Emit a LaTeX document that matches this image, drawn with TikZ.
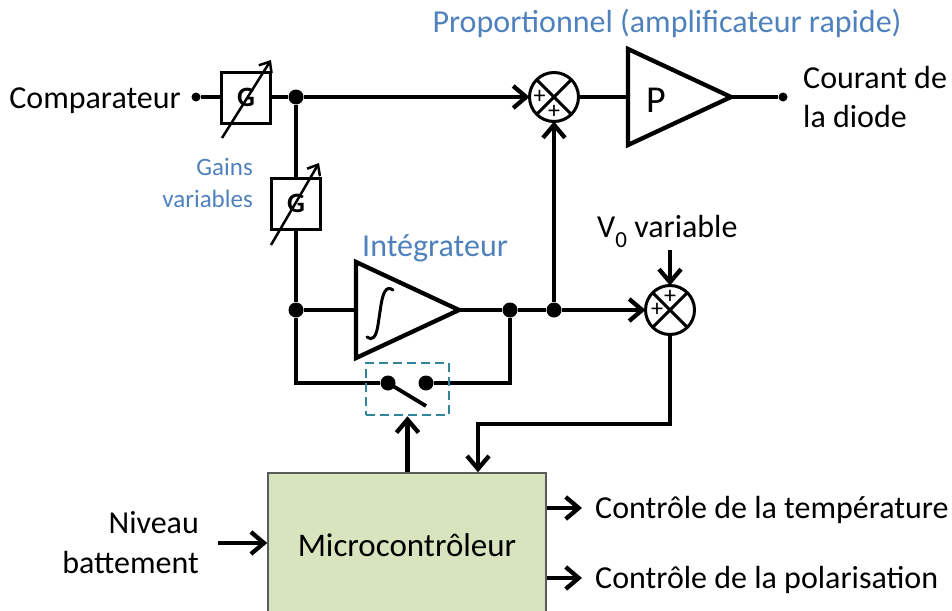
\documentclass[tikz,border=0pt]{standalone}
\usepackage{fontspec}
\setmainfont{Carlito}
\usetikzlibrary{arrows.meta}
\definecolor{lblue}{RGB}{79,129,189}
\definecolor{dteal}{RGB}{49,133,155}
\definecolor{mcfill}{RGB}{215,228,189}
\definecolor{mcline}{RGB}{90,90,90}
\newcommand\fsmain{\fontsize{32}{39}\selectfont}
\newcommand\fssmall{\fontsize{25}{30}\selectfont}
\begin{document}
\begin{tikzpicture}[x=1pt,y=-1pt,
  wire/.style={line width=4.3pt},
  arr/.style={line width=4.3pt,-{Straight Barb[length=13pt,width=22pt]}},
  jdot/.style={circle,fill=black,inner sep=0pt,minimum size=15pt},
  tdot/.style={circle,fill=black,inner sep=0pt,minimum size=9pt},
  gbox/.style={draw,line width=3pt,fill=white,minimum width=49pt,minimum height=51pt,inner sep=0pt,font=\fontsize{28}{30}\selectfont\bfseries},
  sumc/.style={circle,draw,line width=3pt,fill=white,minimum size=49pt,inner sep=0pt,outer sep=0pt},
  lbl/.style={inner sep=0pt,font=\fsmain},
  blbl/.style={inner sep=0pt,font=\fsmain,text=lblue},
  slbl/.style={inner sep=0pt,font=\fssmall,text=lblue},
  plus/.style={inner sep=0pt,font=\fontsize{24}{24}\selectfont},
  garrow/.style={line width=2.5pt,-{Straight Barb[length=9pt,width=15pt]}},
  swbox/.style={draw=dteal,line width=2.5pt,dash pattern=on 9pt off 5pt,minimum width=83pt,minimum height=52pt,inner sep=0pt},
  amp/.style={line width=4.3pt,line join=miter},
]
\clip (0,0) rectangle (952,610);

% ---------- coordinates ----------
\coordinate (pin) at (628,97);
\coordinate (pout) at (731,97);
\coordinate (iin) at (356,310);
\coordinate (iout) at (459,310);
\coordinate (cbl) at (296,383);
\coordinate (cbr) at (510,383);
\coordinate (swend) at (426,406);
\coordinate (v0top) at (670,250);
\coordinate (c1) at (670,424);
\coordinate (c2) at (478,424);
\coordinate (nivarr) at (218,543);
\coordinate (t1) at (582,508);
\coordinate (t2) at (582,578);
\coordinate (g1a) at (222,138);
\coordinate (g1b) at (271,60);
\coordinate (g2a) at (271,245);
\coordinate (g2b) at (319,163);

% ---------- nodes ----------
\node[tdot] (cd) at (196,97) {};
\node[jdot] (j1) at (296,97) {};
\node[jdot] (j2) at (296,310) {};
\node[jdot] (j3) at (510,310) {};
\node[jdot] (j4) at (554,310) {};
\node[tdot] (od) at (783,97) {};
\node[jdot] (swl) at (388,383) {};
\node[jdot] (swr) at (426,383) {};

\node[draw=mcline,fill=mcfill,line width=1.5pt,minimum width=278pt,minimum height=144pt,inner sep=0pt,font=\fontsize{33}{39}\selectfont] (mc) at (407,545) {Microcontrôleur};

% ---------- wires ----------
\draw[wire] (cd) -- (j1);
\draw[wire] (j1) -- (j2);
\node[sumc] (s1) at (554,97) {};
\node[sumc] (s2) at (670,310) {};
\draw[arr] (j1) -- (s1);
\draw[wire] (s1) -- (pin);
\draw[wire] (pout) -- (od);
\draw[wire] (j2) -- (iin);
\draw[wire] (iout) -- (j3) -- (j4);
\draw[arr] (j4) -- (s2);
\draw[arr] (j4) -- (s1);
\draw[wire] (j2) -- (cbl) -- (swl);
\draw[wire] (swr) -- (cbr) -- (j3);
\draw[line width=3.8pt] (swl.center) -- (swend);
\node[swbox] (sw) at (407.5,389) {};
\draw[arr] (mc.north -| sw) -- (sw.south);
\draw[arr] (s2.south) -- (c1) -- (c2) -- (c2 |- mc.north);
\draw[arr] (v0top) -- (s2);
\draw[arr] (nivarr) -- (mc.west |- nivarr);
\draw[arr] (mc.east |- t1) -- (t1);
\draw[arr] (mc.east |- t2) -- (t2);

% ---------- summing junctions ----------
\foreach \s in {s1,s2}{
  \draw[line width=3pt] (\s.north west) -- (\s.south east);
  \draw[line width=3pt] (\s.north east) -- (\s.south west);
}
\node[plus] (p1a) at (539.5,97) {+};
\node[plus] (p1b) at (554,112) {+};
\node[plus] (p2a) at (670,297) {+};
\node[plus] (p2b) at (657,310) {+};

% ---------- amplifiers ----------
\draw[amp,fill=white] (628,49) -- (pout) -- (628,145) -- cycle;
\node[inner sep=0pt,font=\fontsize{38}{40}\selectfont] (plab) at (656,100) {P};
\draw[amp,fill=white] (356,262) -- (iout) -- (356,358) -- cycle;
\draw[line width=3pt,line cap=round] (393,290) .. controls (386,285) and (383,293) .. (381,305)
  -- (378,325) .. controls (376,338) and (372,341) .. (367,337);

% ---------- gain blocks ----------
\node[gbox] (g1) at (246,97.5) {G};
\node[gbox] (g2) at (296,203.5) {G};
\draw[garrow] (g1a) -- (g1b);
\draw[garrow] (g2a) -- (g2b);

% ---------- labels ----------
\node[lbl,anchor=base east] (cmp) at (181,108) {Comparateur};
\node[lbl,anchor=base west] (cour1) at (803,88) {Courant de};
\node[lbl,anchor=base west] (cour2) at (803,127) {la diode};
\node[blbl,anchor=base] (prop) at (667,33) {Proportionnel (amplificateur rapide)};
\node[slbl,anchor=base east] (gains1) at (253,175) {Gains};
\node[slbl,anchor=base east] (gains2) at (253,207) {variables};
\node[blbl,anchor=base west] (integ) at (362,256) {Intégrateur};
\node[lbl,anchor=base west] (v0) at (597,237) {V\raisebox{-10pt}{\fontsize{23}{23}\selectfont 0} variable};
\node[lbl,anchor=base east] (niv1) at (199,533) {Niveau};
\node[lbl,anchor=base east] (niv2) at (199,573) {battement};
\node[lbl,anchor=base west] (ct1) at (595,518) {Contrôle de la température};
\node[lbl,anchor=base west] (ct2) at (595,588) {Contrôle de la polarisation};
\end{tikzpicture}
\end{document}
